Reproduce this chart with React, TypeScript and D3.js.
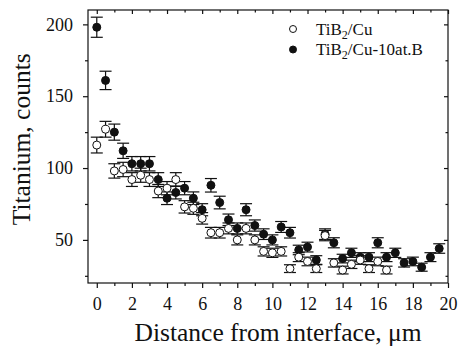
import React, { useEffect, useRef } from 'react'
import * as d3 from 'd3'

// distance from interface, µm (0.5 µm step)
const distance = [0, 0.5, 1, 1.5, 2, 2.5, 3, 3.5, 4, 4.5, 5, 5.5, 6, 6.5, 7, 7.5, 8, 8.5, 9, 9.5,
    10, 10.5, 11, 11.5, 12, 12.5, 13, 13.5, 14, 14.5, 15, 15.5, 16, 16.5, 17, 17.5, 18, 18.5, 19, 19.5]

// TiB2/Cu (open circles)
const cuCounts = [116, 127, 98, 99, 92, 95, 92, 84, 86, 92, 73, 72, 65, 55, 55, 58, 50, 58, 50, 42,
    41, 42, 30, 38, 35, 30, 53, 34, 29, 33, 36, 30, 35, 29]
const cuErr = [5.5, 5.5, 5, 5, 4.8, 4.9, 4.8, 4.6, 4.6, 4.8, 4.3, 4.2, 4, 3.7, 3.7, 3.8, 3.5, 3.8, 3.5, 3.2,
    3.2, 3.2, 2.7, 3.1, 3, 2.7, 3.6, 2.9, 2.7, 2.9, 3, 2.7, 3, 2.7]

// TiB2/Cu-10at.B (filled circles)
const cuBCounts = [198, 161, 125, 112, 103, 103, 103, 92, 79, 83, 86, 79, 71, 88, 76, 64, 58, 71, 60, 54,
    50, 59, 55, 43, 45, 36, 54, 48, 37, 41, 38, 38, 48, 38, 41, 34, 35, 31, 38, 44]
const cuBErr = [7, 6.4, 5.6, 5.3, 5, 5, 5, 4.8, 4.4, 4.5, 4.6, 4.4, 4.2, 4.7, 4.4, 4, 3.8, 4.2, 3.9, 3.7,
    3.5, 3.8, 3.7, 3.3, 3.4, 3, 3.7, 3.5, 3, 3.2, 3.1, 3.1, 3.5, 3.1, 3.2, 2.9, 3, 2.8, 3.1, 3.3]

const xMajor = [0, 2, 4, 6, 8, 10, 12, 14, 16, 18, 20]
const xMinor = [1, 3, 5, 7, 9, 11, 13, 15, 17, 19]
const yMajor = [50, 100, 150, 200]
const yMinor = [25, 75, 125, 175]

const FONT = '"Liberation Serif", "Times New Roman", serif'

export default function App() {
    const svgRef = useRef<SVGSVGElement>(null)
    const width = 460
    const height = 350

    useEffect(() => {
        if (!svgRef.current) return
        const svg = d3.select(svgRef.current)
        svg.selectAll("*").remove()

        const margin = { top: 10, right: 12, bottom: 67, left: 88 }
        const innerWidth = width - margin.left - margin.right
        const innerHeight = height - margin.top - margin.bottom

        const x = d3.scaleLinear().domain([-0.5, 20]).range([0, innerWidth])
        const y = d3.scaleLinear().domain([20, 210]).range([innerHeight, 0])

        const g = svg.append("g").attr("transform", `translate(${margin.left},${margin.top})`)

        const styleAxis = (sel: any) => {
            sel.select(".domain").remove()
            sel.selectAll("line").attr("stroke", "#111").attr("stroke-width", 1.2)
            sel.selectAll("text").attr("font-family", FONT).attr("font-size", 18).attr("fill", "#111")
        }

        // bottom axis
        g.append("g").attr("transform", `translate(0,${innerHeight})`)
            .call(d3.axisBottom(x).tickValues(xMajor).tickSize(5).tickPadding(9).tickFormat(d3.format("d")))
            .call(styleAxis)
        g.append("g").attr("transform", `translate(0,${innerHeight})`)
            .call(d3.axisBottom(x).tickValues(xMinor).tickSize(3).tickFormat(() => ""))
            .call(styleAxis)
        // top axis (inward)
        g.append("g").call(d3.axisTop(x).tickValues(xMajor).tickSize(-4).tickFormat(() => "")).call(styleAxis)
        g.append("g").call(d3.axisTop(x).tickValues(xMinor).tickSize(-2.5).tickFormat(() => "")).call(styleAxis)

        // left axis
        g.append("g")
            .call(d3.axisLeft(y).tickValues(yMajor).tickSize(5).tickPadding(10).tickFormat(d3.format("d")))
            .call(styleAxis)
        g.append("g").call(d3.axisLeft(y).tickValues(yMinor).tickSize(3).tickFormat(() => "")).call(styleAxis)
        // right axis (inward)
        g.append("g").attr("transform", `translate(${innerWidth},0)`)
            .call(d3.axisRight(y).tickValues(yMajor).tickSize(-4).tickFormat(() => "")).call(styleAxis)
        g.append("g").attr("transform", `translate(${innerWidth},0)`)
            .call(d3.axisRight(y).tickValues(yMinor).tickSize(-2.5).tickFormat(() => "")).call(styleAxis)

        // frame
        g.append("rect").attr("width", innerWidth).attr("height", innerHeight)
            .attr("fill", "none").attr("stroke", "#111").attr("stroke-width", 1.2)

        const drawSeries = (counts: number[], err: number[], filled: boolean) => {
            const pts = counts.map((c, i) => ({ d: distance[i], c, e: err[i] }))
            const s = g.append("g")
            const eb = s.selectAll(".eb").data(pts).enter().append("g")
                .attr("stroke", "#111").attr("stroke-width", 1.2)
            eb.append("line")
                .attr("x1", d => x(d.d)).attr("x2", d => x(d.d))
                .attr("y1", d => y(d.c - d.e)).attr("y2", d => y(d.c + d.e))
            eb.append("line")
                .attr("x1", d => x(d.d) - 6).attr("x2", d => x(d.d) + 6)
                .attr("y1", d => y(d.c + d.e)).attr("y2", d => y(d.c + d.e))
            eb.append("line")
                .attr("x1", d => x(d.d) - 6).attr("x2", d => x(d.d) + 6)
                .attr("y1", d => y(d.c - d.e)).attr("y2", d => y(d.c - d.e))
            s.selectAll("circle").data(pts).enter().append("circle")
                .attr("cx", d => x(d.d)).attr("cy", d => y(d.c))
                .attr("r", 4)
                .attr("fill", filled ? "#111" : "#fff")
                .attr("stroke", "#111").attr("stroke-width", 1)
        }

        drawSeries(cuBCounts, cuBErr, true)
        drawSeries(cuCounts, cuErr, false)

        // axis titles
        svg.append("text")
            .attr("x", 278).attr("y", 341)
            .attr("text-anchor", "middle")
            .attr("font-family", FONT).attr("font-size", 25.5).attr("fill", "#111")
            .text("Distance from interface, \u03bcm")
        svg.append("text")
            .attr("transform", `translate(30,${margin.top + y(120)}) rotate(-90)`)
            .attr("text-anchor", "middle")
            .attr("font-family", FONT).attr("font-size", 25.5).attr("fill", "#111")
            .text("Titanium, counts")

        // legend
        const legend = svg.append("g").attr("font-family", FONT).attr("font-size", 17).attr("fill", "#111")
        const items = [{ label: "/Cu", filled: false }, { label: "/Cu-10at.B", filled: true }]
        items.forEach((it, i) => {
            const ly = 29 + i * 20.5
            legend.append("circle").attr("cx", 293).attr("cy", ly).attr("r", 3.5)
                .attr("fill", it.filled ? "#111" : "#fff").attr("stroke", "#111").attr("stroke-width", 1)
            const t = legend.append("text").attr("x", 316).attr("y", ly + 5.5)
            t.append("tspan").text("TiB")
            t.append("tspan").attr("font-size", 12).attr("dy", 4).text("2")
            t.append("tspan").attr("dy", -4).text(it.label)
        })
    }, [])

    return (
        <svg ref={svgRef} width={width} height={height} viewBox={`0 0 ${width} ${height}`}
            style={{ position: 'absolute', left: 0, top: 0, background: '#fff' }} />
    )
}
